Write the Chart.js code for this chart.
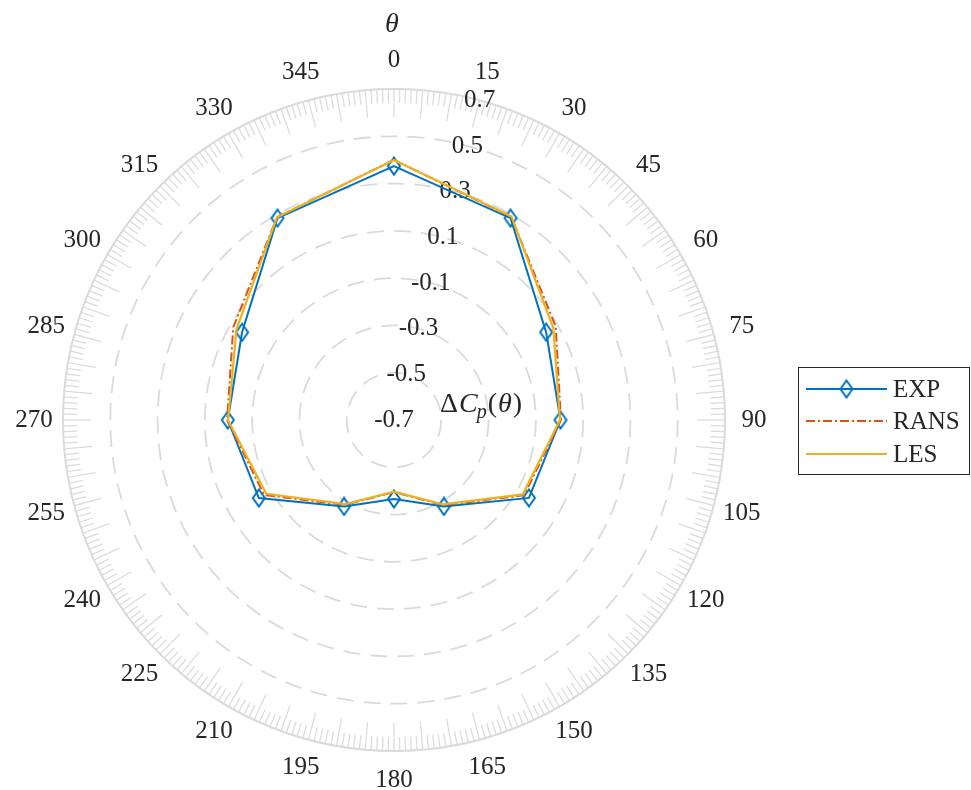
<!DOCTYPE html>
<html>
<head>
<meta charset="utf-8">
<script src="https://cdn.jsdelivr.net/npm/chart.js@4.4.1/dist/chart.umd.min.js"></script>
<style>
  html, body { margin: 0; padding: 0; background: #fff; }
</style>
</head>
<body>
<canvas id="grafico" width="971" height="790"></canvas>
<script>
/* =========================
   Polar - Delta Cp(theta)
========================= */

// Ângulos (graus), um rótulo a cada 15
const ANGULOS = ['0', '15', '30', '45', '60', '75', '90', '105', '120', '135', '150', '165',
  '180', '195', '210', '225', '240', '255', '270', '285', '300', '315', '330', '345'];

// Dados medidos a cada 30 graus (null = sem dado no ângulo intermediário)
const EXP = [0.374, null, 0.286, null, 0.043, null, 0.004, null, -0.041, null, -0.278, null,
  -0.366, null, -0.278, null, -0.040, null, 0.003, null, 0.042, null, 0.286, null];
const RANS = [0.400, null, 0.292, null, 0.090, null, 0.006, null, -0.064, null, -0.284, null,
  -0.395, null, -0.285, null, -0.066, null, 0.006, null, 0.085, null, 0.290, null];
const LES = [0.400, null, 0.294, null, 0.078, null, 0.002, null, -0.071, null, -0.288, null,
  -0.397, null, -0.289, null, -0.076, null, 0.002, null, 0.069, null, 0.290, null];

// Ticks do eixo radial
const R_TICKS = [-0.7, -0.5, -0.3, -0.1, 0.1, 0.3, 0.5, 0.7];

const COR_TEXTO = '#262626';
const COR_GRADE = '#dadada';
const FONTE = '"Liberation Serif", "DejaVu Serif", serif';

// Marcador losango (mais alto que largo, como no MATLAB)
function criarLosango() {
  const c = document.createElement('canvas');
  c.width = 16; c.height = 20;
  const g = c.getContext('2d');
  g.strokeStyle = '#0072BD';
  g.lineWidth = 2;
  g.beginPath();
  g.moveTo(8, 1.5); g.lineTo(14, 10); g.lineTo(8, 18.5); g.lineTo(2, 10);
  g.closePath();
  g.stroke();
  return c;
}
const losango = criarLosango();

// Réguas do anel externo, rótulos e legenda
const decoracao = {
  id: 'decoracao',
  beforeDatasetsDraw(chart) {
    const s = chart.scales.r;
    const ctx = chart.ctx;
    const cx = s.xCenter, cy = s.yCenter, R = s.drawingArea;

    ctx.save();
    ctx.strokeStyle = COR_GRADE;
    ctx.lineWidth = 1.2;
    for (let g = 0; g < 360; g++) {
      const a = g * Math.PI / 180 - Math.PI / 2;
      const len = (g % 5 === 0) ? 28 : 14;
      ctx.beginPath();
      ctx.moveTo(cx + Math.cos(a) * R, cy + Math.sin(a) * R);
      ctx.lineTo(cx + Math.cos(a) * (R - len), cy + Math.sin(a) * (R - len));
      ctx.stroke();
    }

    ctx.fillStyle = COR_TEXTO;
    ctx.font = '25px ' + FONTE;
    ctx.textAlign = 'center';
    ctx.textBaseline = 'middle';
    chart.data.labels.forEach((lab, i) => {
      const p = s.getPointPosition(i, R + 29);
      ctx.fillText(lab, p.x, p.y);
    });

    // rótulos radiais ao longo de 15 graus
    R_TICKS.forEach(v => {
      const p = s.getPointPosition(1, s.getDistanceFromCenterForValue(v));
      ctx.fillText(String(v), p.x, p.y);
    });
    ctx.restore();
  },
  afterDraw(chart) {
    const ctx = chart.ctx;
    const s = chart.scales.r;
    ctx.save();
    ctx.fillStyle = COR_TEXTO;
    ctx.textBaseline = 'alphabetic';

    // título theta
    ctx.font = 'italic 28px ' + FONTE;
    ctx.textAlign = 'center';
    ctx.fillText('\u03b8', s.xCenter - 2, 32);

    // rótulo do eixo r: ΔC_p(θ)
    let x = 440;
    const yb = 412;
    ctx.textAlign = 'left';
    const partes = [
      ['\u0394', '28px ', 0], ['C', 'italic 28px ', 0], ['p', 'italic 20px ', 6],
      ['(', '28px ', 0], ['\u03b8', 'italic 28px ', 0], [')', '28px ', 0]
    ];
    partes.forEach(([t, f, dy]) => {
      ctx.font = f + FONTE;
      ctx.fillText(t, x, yb + dy);
      x += ctx.measureText(t).width + (t === 'C' ? -1 : 1);
    });

    // legenda
    const bx = 798.5, by = 367.5, bw = 171, bh = 107;
    ctx.fillStyle = '#fff';
    ctx.fillRect(bx, by, bw, bh);
    ctx.strokeStyle = COR_TEXTO;
    ctx.lineWidth = 1;
    ctx.strokeRect(bx, by, bw, bh);
    const linhas = [389, 421, 454];
    chart.data.datasets.forEach((ds, i) => {
      const y = linhas[i];
      ctx.save();
      ctx.strokeStyle = ds.borderColor;
      ctx.lineWidth = ds.borderWidth;
      ctx.setLineDash(ds.borderDash || []);
      ctx.beginPath();
      ctx.moveTo(806, y);
      ctx.lineTo(887, y);
      ctx.stroke();
      ctx.restore();
      if (ds.pointStyle instanceof HTMLCanvasElement) {
        ctx.drawImage(ds.pointStyle, 846.5 - ds.pointStyle.width / 2, y - ds.pointStyle.height / 2);
      }
      ctx.fillStyle = COR_TEXTO;
      ctx.font = '25px ' + FONTE;
      ctx.textBaseline = 'middle';
      ctx.fillText(ds.label, 893, y + 1);
    });
    ctx.restore();
  }
};

const ctx = document.getElementById('grafico').getContext('2d');
new Chart(ctx, {
  type: 'radar',
  data: {
    labels: ANGULOS,
    datasets: [
      {
        label: 'EXP',
        data: EXP,
        borderColor: '#0072BD',
        borderWidth: 2,
        backgroundColor: 'rgba(0,0,0,0)',
        fill: false,
        spanGaps: true,
        pointStyle: losango,
        pointRadius: 8,
        order: 3
      },
      {
        label: 'RANS',
        data: RANS,
        borderColor: '#D95319',
        borderWidth: 2,
        borderDash: [9, 3, 2, 3],
        backgroundColor: 'rgba(0,0,0,0)',
        fill: false,
        spanGaps: true,
        pointRadius: 0,
        order: 2
      },
      {
        label: 'LES',
        data: LES,
        borderColor: '#EDB120',
        borderWidth: 2.2,
        backgroundColor: 'rgba(0,0,0,0)',
        fill: false,
        spanGaps: true,
        pointRadius: 0,
        order: 1
      }
    ]
  },
  options: {
    responsive: false,
    animation: false,
    layout: { padding: { left: 63, top: 89, right: 246, bottom: 39 } },
    elements: { line: { tension: 0 } },
    plugins: {
      legend: { display: false },
      tooltip: { enabled: false }
    },
    scales: {
      r: {
        min: -0.7,
        max: 0.7,
        startAngle: 0,
        angleLines: { display: false },
        pointLabels: { display: false },
        ticks: { display: false, stepSize: 0.2 },
        grid: {
          circular: true,
          color: c => c.index === 0 ? 'rgba(0,0,0,0)' : COR_GRADE,
          lineWidth: c => c.index === R_TICKS.length - 1 ? 2 : 1.8
        },
        border: {
          dash: c => c.index === R_TICKS.length - 1 ? [] : [17, 10]
        }
      }
    }
  },
  plugins: [decoracao]
});
</script>
</body>
</html>
